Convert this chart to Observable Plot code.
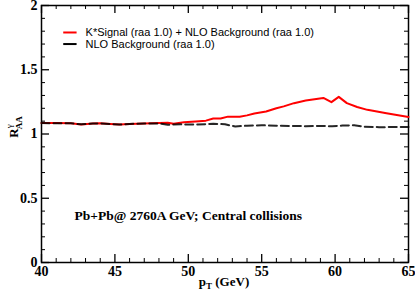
<!DOCTYPE html>
<html>
<head>
<meta charset="utf-8">
<script src="https://cdn.jsdelivr.net/npm/d3@7"></script>
<script src="https://cdn.jsdelivr.net/npm/@observablehq/plot@0.6"></script>
<style>
  html, body { margin: 0; padding: 0; background: #fff; }
  #chart { width: 415px; height: 293px; }
</style>
</head>
<body>
<div id="chart"></div>
<script>
// pT values (GeV) and R_AA for the red curve: K*Signal + NLO Background
const signalPt = [40, 41, 42, 42.7, 43.5, 44, 44.7, 45.3, 46, 47, 48, 48.6, 49, 49.7, 50.5, 51.2, 51.7, 52.2, 52.7, 53.5, 54, 54.5, 55.3, 56, 56.5, 57.2, 58, 59.2, 59.75, 60.25, 60.8, 61.5, 62.2, 63.5, 65];
const signalRaa = [1.085, 1.085, 1.083, 1.074, 1.082, 1.083, 1.078, 1.073, 1.078, 1.082, 1.086, 1.088, 1.080, 1.092, 1.098, 1.104, 1.120, 1.120, 1.135, 1.134, 1.145, 1.160, 1.175, 1.200, 1.215, 1.240, 1.260, 1.281, 1.248, 1.289, 1.240, 1.210, 1.188, 1.162, 1.133];

// NLO Background only (black dashed)
const bgPt = [40, 41, 42, 42.7, 43.5, 44, 44.7, 45.3, 46, 47, 48, 48.6, 49.5, 50.5, 51.7, 52.5, 53.2, 54, 55, 56, 57, 58, 59, 59.8, 60.5, 61.3, 62, 63, 64, 65];
const bgRaa = [1.085, 1.083, 1.083, 1.075, 1.082, 1.083, 1.078, 1.073, 1.078, 1.082, 1.082, 1.072, 1.075, 1.073, 1.080, 1.076, 1.058, 1.065, 1.068, 1.064, 1.063, 1.061, 1.063, 1.060, 1.066, 1.068, 1.057, 1.053, 1.054, 1.054];

// Axis ticks
const xMajor = [40, 45, 50, 55, 60, 65];
const xMinor = d3.range(40, 65.01, 1).filter(v => v % 5 !== 0);
const yMajor = [0, 0.5, 1, 1.5, 2];
const yMinor = d3.range(0, 2.001, 0.1).map(v => +v.toFixed(1)).filter(v => Math.abs(v * 2 - Math.round(v * 2)) > 1e-6);

// Legend and annotation (data coordinates)
const legendLabels = ["K*Signal (raa 1.0) + NLO Background (raa 1.0)", "NLO Background (raa 1.0)"];
const legendColors = ["#ff0000", "#000000"];
const legendDash = [null, "5,3"];
const legendY = [1.79, 1.70];
const legendX = [41.48, 42.39, 43.0];
const annotation = "Pb+Pb@ 2760A GeV; Central collisions";
const annotationPos = [42.25, 0.365];

const signal = signalPt.map((x, i) => ({x, y: signalRaa[i]}));
const background = bgPt.map((x, i) => ({x, y: bgRaa[i]}));
const legend = legendLabels.map((label, i) => ({label, color: legendColors[i], dash: legendDash[i], y: legendY[i]}));

const serif = "'Liberation Serif', 'Times New Roman', serif";
const sans = "'Liberation Sans', Arial, Helvetica, sans-serif";
const tickFont = {fontFamily: serif, fontWeight: "bold", fontSize: 14, fill: "#000"};

const W = 415, H = 293, mL = 41, mR = 7, mT = 5, mB = 31;
const [x0, x1] = [xMajor[0], xMajor[xMajor.length - 1]];
const [y0, y1] = [yMajor[0], yMajor[yMajor.length - 1]];
// tick lengths (8px major, 4px minor) converted to data units of each scale
const pxX = (x1 - x0) / (W - mL - mR);
const pxY = (y1 - y0) / (H - mT - mB);
const MAJ = 8, MIN = 4;

const plot = Plot.plot({
  width: W,
  height: H,
  marginLeft: mL,
  marginRight: mR,
  marginTop: mT,
  marginBottom: mB,
  style: {background: "#fff", overflow: "visible"},
  x: {domain: [x0, x1]},
  y: {domain: [y0, y1]},
  marks: [
    // tick labels
    Plot.axisX({anchor: "bottom", ticks: xMajor, tickSize: 0, tickPadding: 4, tickFormat: d => String(d), ...tickFont, label: null}),
    Plot.axisY({anchor: "left", ticks: yMajor, tickSize: 0, tickPadding: 4, tickFormat: d => String(d), ...tickFont, label: null}),
    // inward ticks on all four sides
    Plot.ruleX(xMajor, {x: d => d, y1: y0, y2: y0 + MAJ * pxY, stroke: "#000", strokeWidth: 1.3}),
    Plot.ruleX(xMinor, {x: d => d, y1: y0, y2: y0 + MIN * pxY, stroke: "#000", strokeWidth: 1}),
    Plot.ruleX(xMajor, {x: d => d, y1: y1, y2: y1 - MAJ * pxY, stroke: "#000", strokeWidth: 1.3}),
    Plot.ruleX(xMinor, {x: d => d, y1: y1, y2: y1 - MIN * pxY, stroke: "#000", strokeWidth: 1}),
    Plot.ruleY(yMajor, {y: d => d, x1: x0, x2: x0 + MAJ * pxX, stroke: "#000", strokeWidth: 1.3}),
    Plot.ruleY(yMinor, {y: d => d, x1: x0, x2: x0 + MIN * pxX, stroke: "#000", strokeWidth: 1}),
    Plot.ruleY(yMajor, {y: d => d, x1: x1, x2: x1 - MAJ * pxX, stroke: "#000", strokeWidth: 1.3}),
    Plot.ruleY(yMinor, {y: d => d, x1: x1, x2: x1 - MIN * pxX, stroke: "#000", strokeWidth: 1}),
    Plot.frame({stroke: "#000", strokeWidth: 1.5}),
    // data
    Plot.line(signal, {x: "x", y: "y", stroke: "#ff0000", strokeWidth: 2}),
    Plot.line(background, {x: "x", y: "y", stroke: "#000", strokeWidth: 2, strokeDasharray: "8,4", strokeOpacity: 0.85}),
    // legend
    Plot.link(legend, {x1: legendX[0], x2: legendX[1], y1: "y", y2: "y", stroke: "color", strokeWidth: 2, strokeDasharray: d => d.dash}),
    Plot.text(legend, {x: legendX[2], y: "y", text: "label", textAnchor: "start", fontFamily: sans, fontSize: 11, fill: "#000"}),
    // annotation
    Plot.text([annotation], {x: annotationPos[0], y: annotationPos[1], text: d => d, textAnchor: "start", fontFamily: serif, fontWeight: "bold", fontSize: 13.5, fill: "#000"})
  ]
});

// axis titles with sub/superscripts
const svg = d3.select(plot);
const yl = svg.append("text")
  .attr("transform", "translate(18,127) rotate(-90)")
  .attr("text-anchor", "middle")
  .attr("font-family", serif)
  .attr("font-weight", "bold")
  .attr("font-size", 13)
  .attr("fill", "#000");
yl.append("tspan").text("R");
yl.append("tspan").attr("font-size", 9).attr("dy", -6).attr("font-weight", "normal").text("γ");
yl.append("tspan").attr("font-size", 9).attr("dx", -5).attr("dy", 10).text("AA");

const xl = svg.append("text")
  .attr("transform", "translate(224,286)")
  .attr("text-anchor", "middle")
  .attr("font-family", serif)
  .attr("font-weight", "bold")
  .attr("font-size", 13)
  .attr("fill", "#000");
xl.append("tspan").text("p");
xl.append("tspan").attr("font-size", 9).attr("dy", 3).text("T");
xl.append("tspan").attr("dy", -3).text(" (GeV)");

document.getElementById("chart").appendChild(plot);
</script>
</body>
</html>
